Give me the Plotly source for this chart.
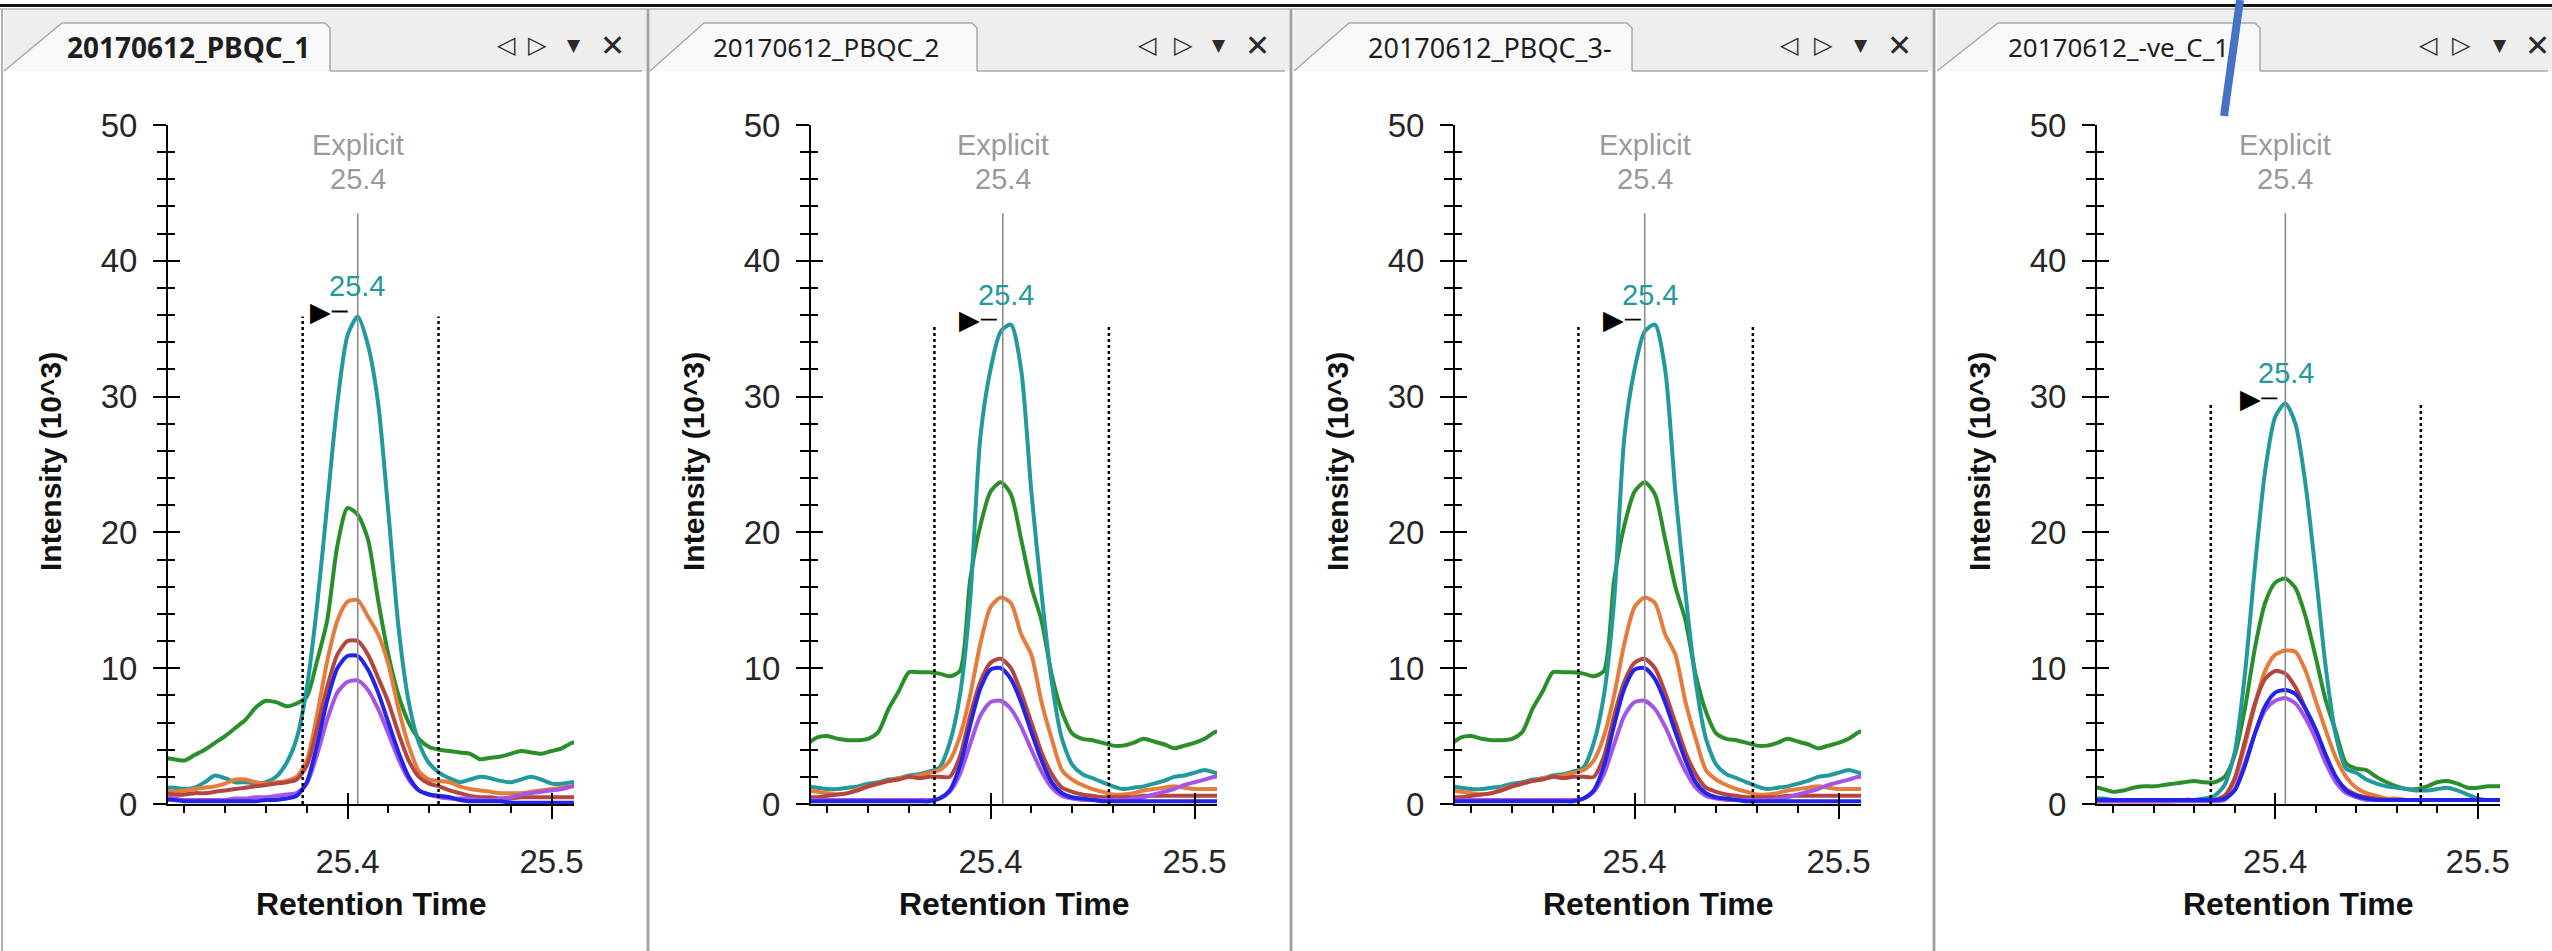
import plotly.graph_objects as go

W, H = 2552, 951

# ---------------- data ----------------
RT = [25.310, 25.315, 25.320, 25.325, 25.330, 25.335, 25.340, 25.345, 25.350, 25.355,
      25.360, 25.365, 25.370, 25.375, 25.380, 25.385, 25.390, 25.395, 25.400, 25.405,
      25.410, 25.415, 25.420, 25.425, 25.430, 25.435, 25.440, 25.445, 25.450, 25.455,
      25.460, 25.465, 25.470, 25.475, 25.480, 25.485, 25.490, 25.495, 25.500, 25.505,
      25.510, 25.515]

PANEL_NAMES = ["20170612_PBQC_1", "20170612_PBQC_2", "20170612_PBQC_3-", "20170612_-ve_C_1"]

teal_1 = [1.2, 1.2, 1.1, 1.2, 1.6, 2.1, 1.9, 1.6, 1.6, 1.5, 1.6, 2.0, 3.0, 4.8, 8.5, 14.5, 22.0, 29.5, 34.5, 35.9,
          33.8, 29.5, 21.5, 13.0, 7.5, 4.5, 3.0, 2.3, 1.9, 1.6, 1.8, 2.0, 1.9, 1.7, 1.6, 1.8, 2.0, 1.8, 1.5, 1.5, 1.6, 1.6]
green_1 = [3.4, 3.3, 3.2, 3.6, 4.0, 4.5, 5.0, 5.6, 6.2, 7.1, 7.6, 7.5, 7.2, 7.4, 7.9, 10.5, 13.5, 19.0, 21.8, 21.3,
           19.5, 15.0, 11.0, 8.0, 6.0, 4.8, 4.2, 4.0, 3.9, 3.8, 3.7, 3.3, 3.4, 3.5, 3.7, 3.9, 3.8, 3.7, 3.9, 4.1, 4.5, 4.6]
orange_1 = [1.0, 0.9, 1.0, 1.1, 1.2, 1.3, 1.5, 1.8, 1.8, 1.6, 1.5, 1.6, 1.7, 2.0, 3.2, 6.5, 10.5, 13.5, 14.9, 15.0,
            13.8, 12.5, 10.3, 7.0, 4.3, 2.4, 1.8, 1.7, 1.6, 1.3, 1.1, 1.0, 0.9, 0.8, 0.8, 0.8, 0.9, 1.0, 1.1, 1.2, 1.3, 1.3]
red_1 = [0.8, 0.7, 0.7, 0.8, 0.8, 0.9, 1.0, 1.1, 1.2, 1.3, 1.4, 1.5, 1.6, 1.8, 2.8, 5.5, 8.6, 11.0, 12.0, 12.0,
         11.0, 9.3, 7.5, 5.2, 3.2, 2.0, 1.5, 1.3, 1.0, 0.8, 0.6, 0.5, 0.5, 0.4, 0.4, 0.5, 0.5, 0.5, 0.5, 0.5, 0.5, 0.5]
blue_1 = [0.3, 0.3, 0.2, 0.2, 0.2, 0.2, 0.2, 0.2, 0.2, 0.2, 0.3, 0.3, 0.4, 0.6, 1.6, 4.3, 7.6, 10.0, 10.9, 10.9,
          9.9, 8.2, 6.0, 3.8, 2.0, 1.0, 0.7, 0.6, 0.5, 0.3, 0.2, 0.2, 0.2, 0.2, 0.1, 0.1, 0.1, 0.1, 0.1, 0.1, 0.1, 0.1]
purple_1 = [0.5, 0.4, 0.3, 0.3, 0.3, 0.3, 0.3, 0.4, 0.4, 0.5, 0.5, 0.6, 0.7, 0.8, 1.5, 3.6, 6.2, 8.2, 9.0, 9.1,
            8.4, 7.0, 5.2, 3.3, 1.8, 1.0, 0.7, 0.5, 0.4, 0.4, 0.4, 0.3, 0.3, 0.4, 0.5, 0.7, 0.8, 0.9, 1.0, 1.1, 1.3, 1.4]

teal_2 = [1.3, 1.2, 1.1, 1.1, 1.2, 1.3, 1.5, 1.6, 1.8, 1.9, 2.1, 2.2, 2.4, 2.7, 4.5, 8.0, 15.0, 27.0, 32.0, 34.8,
          35.3, 32.0, 23.0, 15.5, 9.0, 4.8, 2.9, 2.2, 1.9, 1.6, 1.3, 1.1, 1.2, 1.3, 1.5, 1.7, 2.0, 2.1, 2.3, 2.5, 2.3, 2.2]
green_2 = [4.4, 4.9, 5.0, 4.8, 4.7, 4.7, 4.8, 5.3, 7.0, 8.3, 9.7, 9.7, 9.7, 9.6, 9.4, 9.8, 16.5, 20.5, 23.0, 23.7,
           22.8, 19.5, 16.0, 13.5, 9.5, 6.8, 5.2, 4.8, 4.7, 4.5, 4.3, 4.3, 4.5, 4.8, 4.6, 4.4, 4.1, 4.3, 4.5, 4.8, 5.3, 5.4]
orange_2 = [1.0, 0.9, 0.8, 0.7, 0.8, 1.1, 1.3, 1.5, 1.7, 1.9, 2.0, 2.1, 2.3, 2.5, 3.2, 5.0, 8.0, 11.8, 14.5, 15.2,
            14.8, 12.5, 11.0, 7.5, 4.8, 2.5, 1.8, 1.4, 1.1, 0.9, 0.7, 0.7, 0.8, 1.0, 1.1, 1.2, 1.3, 1.2, 1.1, 1.1, 1.1, 1.1]
red_2 = [0.5, 0.5, 0.6, 0.7, 0.8, 1.0, 1.3, 1.5, 1.7, 1.8, 2.0, 1.9, 2.0, 2.0, 2.0, 3.5, 6.5, 9.0, 10.4, 10.7,
         10.0, 8.2, 6.0, 3.8, 2.2, 1.2, 0.9, 0.7, 0.6, 0.5, 0.5, 0.5, 0.5, 0.6, 0.6, 0.6, 0.6, 0.6, 0.6, 0.6, 0.6, 0.6]
blue_2 = [0.2, 0.2, 0.2, 0.2, 0.2, 0.2, 0.2, 0.2, 0.2, 0.2, 0.2, 0.2, 0.2, 0.4, 1.0, 2.8, 5.8, 8.5, 9.9, 10.0,
          9.2, 7.5, 5.3, 3.2, 1.6, 0.8, 0.5, 0.4, 0.3, 0.2, 0.2, 0.2, 0.2, 0.2, 0.2, 0.2, 0.2, 0.2, 0.2, 0.2, 0.2, 0.2]
purple_2 = [0.3, 0.3, 0.3, 0.3, 0.3, 0.3, 0.3, 0.3, 0.3, 0.3, 0.3, 0.3, 0.3, 0.4, 0.9, 2.2, 4.4, 6.5, 7.5, 7.6,
            7.0, 5.7, 4.0, 2.4, 1.2, 0.6, 0.4, 0.3, 0.3, 0.3, 0.3, 0.3, 0.4, 0.5, 0.7, 0.9, 1.1, 1.4, 1.6, 1.8, 2.0, 2.0]

teal_3 = [1.3, 1.2, 1.1, 1.1, 1.2, 1.3, 1.5, 1.6, 1.8, 1.9, 2.1, 2.2, 2.4, 2.7, 4.5, 8.0, 15.0, 27.0, 32.0, 34.8,
          35.3, 32.0, 23.0, 15.5, 9.0, 4.8, 2.9, 2.2, 1.9, 1.6, 1.3, 1.1, 1.2, 1.3, 1.5, 1.7, 2.0, 2.1, 2.3, 2.5, 2.3, 2.2]
green_3 = [4.4, 4.9, 5.0, 4.8, 4.7, 4.7, 4.8, 5.3, 7.0, 8.3, 9.7, 9.7, 9.7, 9.6, 9.4, 9.8, 16.5, 20.5, 23.0, 23.7,
           22.8, 19.5, 16.0, 13.5, 9.5, 6.8, 5.2, 4.8, 4.7, 4.5, 4.3, 4.3, 4.5, 4.8, 4.6, 4.4, 4.1, 4.3, 4.5, 4.8, 5.3, 5.4]
orange_3 = [1.0, 0.9, 0.8, 0.7, 0.8, 1.1, 1.3, 1.5, 1.7, 1.9, 2.0, 2.1, 2.3, 2.5, 3.2, 5.0, 8.0, 11.8, 14.5, 15.2,
            14.8, 12.5, 11.0, 7.5, 4.8, 2.5, 1.8, 1.4, 1.1, 0.9, 0.7, 0.7, 0.8, 1.0, 1.1, 1.2, 1.3, 1.2, 1.1, 1.1, 1.1, 1.1]
red_3 = [0.5, 0.5, 0.6, 0.7, 0.8, 1.0, 1.3, 1.5, 1.7, 1.8, 2.0, 1.9, 2.0, 2.0, 2.0, 3.5, 6.5, 9.0, 10.4, 10.7,
         10.0, 8.2, 6.0, 3.8, 2.2, 1.2, 0.9, 0.7, 0.6, 0.5, 0.5, 0.5, 0.5, 0.6, 0.6, 0.6, 0.6, 0.6, 0.6, 0.6, 0.6, 0.6]
blue_3 = [0.2, 0.2, 0.2, 0.2, 0.2, 0.2, 0.2, 0.2, 0.2, 0.2, 0.2, 0.2, 0.2, 0.4, 1.0, 2.8, 5.8, 8.5, 9.9, 10.0,
          9.2, 7.5, 5.3, 3.2, 1.6, 0.8, 0.5, 0.4, 0.3, 0.2, 0.2, 0.2, 0.2, 0.2, 0.2, 0.2, 0.2, 0.2, 0.2, 0.2, 0.2, 0.2]
purple_3 = [0.3, 0.3, 0.3, 0.3, 0.3, 0.3, 0.3, 0.3, 0.3, 0.3, 0.3, 0.3, 0.3, 0.4, 0.9, 2.2, 4.4, 6.5, 7.5, 7.6,
            7.0, 5.7, 4.0, 2.4, 1.2, 0.6, 0.4, 0.3, 0.3, 0.3, 0.3, 0.3, 0.4, 0.5, 0.7, 0.9, 1.1, 1.4, 1.6, 1.8, 2.0, 2.0]

teal_4 = [0.4, 0.4, 0.3, 0.3, 0.3, 0.3, 0.3, 0.3, 0.3, 0.3, 0.3, 0.4, 0.6, 1.4, 3.8, 9.5, 17.5, 24.5, 28.5, 29.5,
          28.0, 23.5, 17.0, 10.0, 5.0, 2.6, 2.3, 1.8, 1.5, 1.3, 1.2, 1.1, 1.0, 1.0, 1.1, 1.2, 1.0, 0.7, 0.4, 0.3, 0.3, 0.3]
green_4 = [1.3, 1.1, 0.9, 1.0, 1.2, 1.3, 1.3, 1.4, 1.5, 1.6, 1.7, 1.6, 1.6, 2.0, 3.6, 7.0, 11.5, 14.8, 16.3, 16.6,
           15.9, 13.8, 10.8, 7.6, 5.3, 3.0, 2.6, 2.5, 2.0, 1.6, 1.3, 1.1, 1.1, 1.3, 1.6, 1.7, 1.5, 1.2, 1.2, 1.3, 1.3, 1.3]
orange_4 = [0.2, 0.2, 0.2, 0.2, 0.2, 0.2, 0.2, 0.2, 0.2, 0.3, 0.3, 0.3, 0.3, 0.6, 1.8, 4.3, 7.3, 9.8, 11.0, 11.3,
            11.2, 9.8, 7.6, 5.4, 3.4, 2.0, 1.2, 0.8, 0.6, 0.4, 0.4, 0.3, 0.3, 0.3, 0.3, 0.3, 0.3, 0.3, 0.3, 0.3, 0.3, 0.3]
red_4 = [0.2, 0.2, 0.2, 0.2, 0.2, 0.2, 0.2, 0.2, 0.2, 0.3, 0.3, 0.3, 0.3, 0.6, 1.9, 4.6, 7.4, 9.2, 9.8, 9.6,
         8.6, 7.0, 5.0, 3.2, 1.9, 1.1, 0.7, 0.5, 0.4, 0.3, 0.3, 0.3, 0.3, 0.3, 0.3, 0.3, 0.3, 0.3, 0.3, 0.3, 0.3, 0.3]
blue_4 = [0.3, 0.3, 0.3, 0.3, 0.3, 0.3, 0.3, 0.3, 0.3, 0.3, 0.3, 0.3, 0.3, 0.4, 1.0, 2.8, 5.2, 7.2, 8.2, 8.4,
          8.1, 7.0, 5.5, 3.6, 2.0, 1.0, 0.6, 0.4, 0.3, 0.3, 0.3, 0.3, 0.3, 0.3, 0.3, 0.3, 0.3, 0.3, 0.3, 0.3, 0.3, 0.3]
purple_4 = [0.2, 0.2, 0.2, 0.2, 0.2, 0.2, 0.2, 0.2, 0.2, 0.2, 0.2, 0.2, 0.2, 0.3, 1.1, 3.0, 5.2, 6.9, 7.6, 7.8,
            7.4, 6.3, 4.8, 3.0, 1.6, 0.8, 0.5, 0.3, 0.3, 0.3, 0.3, 0.3, 0.3, 0.3, 0.3, 0.3, 0.3, 0.3, 0.3, 0.3, 0.3, 0.3]

EXPLICIT_RT = [25.405, 25.406, 25.405, 25.405]
APEX_RT = [25.4045, 25.4075, 25.4075, 25.4055]
BOUND_LEFT = [25.378, 25.3725, 25.3725, 25.3682]
BOUND_RIGHT = [25.4446, 25.458, 25.458, 25.4719]

Y_RANGE = [0, 50]
X_RANGE = [25.312, 25.511]

SERIES = {
    "green": [green_1, green_2, green_3, green_4],
    "teal": [teal_1, teal_2, teal_3, teal_4],
    "orange": [orange_1, orange_2, orange_3, orange_4],
    "red": [red_1, red_2, red_3, red_4],
    "purple": [purple_1, purple_2, purple_3, purple_4],
    "blue": [blue_1, blue_2, blue_3, blue_4],
}
COLORS = {
    "teal": "#22999c",
    "green": "#2a8f2a",
    "orange": "#e67c3b",
    "red": "#b3473f",
    "blue": "#2424e8",
    "purple": "#a455e6",
}

# ---------------- geometry (pixels) ----------------
AXIS_LEFT = [168, 811, 1455, 2097]
AXIS_RIGHT = [574, 1217, 1861, 2500]
Y_TOP, Y_BOTTOM = 125, 804
PANEL_LEFT = [4, 650, 1294, 1937]
PANEL_RIGHT = [646, 1289, 1932, 2552]
TAB_SLANT = [62, 704, 1349, 1998]
TAB_RIGHT = [330, 977, 1632, 2260]
TAB_TEXT_X = [188, 826, 1490, 2118]
TAB_TEXT_SIZE = [28, 26, 27, 26]
ICON_X = [[506, 537, 574, 612], [1147, 1183, 1219, 1257], [1789, 1823, 1861, 1899], [2428, 2461, 2500, 2537]]
SEPARATORS = [648, 1291, 1934]

FONT = "Liberation Sans, Arial, sans-serif"


def px(x):
    return x / W


def py(y):
    return 1 - y / H


def paper_text(x, y, text, font, **kw):
    d = dict(x=px(x), y=py(y), xref="paper", yref="paper", text=text, showarrow=False,
             xanchor="center", yanchor="middle", font=font)
    d.update(kw)
    return d


fig = go.Figure()
shapes = []
annotations = []
layout_axes = {}

for i in range(4):
    n = i + 1
    xid = "x" if n == 1 else f"x{n}"
    yid = "y" if n == 1 else f"y{n}"
    xo, yo = f"x{n + 4}", f"y{n + 4}"

    # chromatogram traces
    for key in ["green", "teal", "orange", "red", "purple", "blue"]:
        fig.add_trace(go.Scatter(
            x=RT, y=SERIES[key][i], mode="lines", xaxis=xid, yaxis=yid,
            line=dict(color=COLORS[key], width=4, shape="spline", smoothing=0.7),
            showlegend=False, hoverinfo="skip"))

    teal = SERIES["teal"][i]
    apex_h = max(teal)

    # integration boundaries
    for b in (BOUND_LEFT[i], BOUND_RIGHT[i]):
        fig.add_trace(go.Scatter(
            x=[b, b], y=[0, apex_h], mode="lines", xaxis=xid, yaxis=yid,
            line=dict(color="black", width=2.5, dash="dot"), showlegend=False, hoverinfo="skip"))
    # explicit RT line
    fig.add_trace(go.Scatter(
        x=[EXPLICIT_RT[i], EXPLICIT_RT[i]], y=[0, 43.5], mode="lines", xaxis=xid, yaxis=yid,
        line=dict(color="#8c8c8c", width=1.6), showlegend=False, hoverinfo="skip"))

    # dummy traces for overlay (crossing ticks) axes
    fig.add_trace(go.Scatter(x=[None], y=[None], xaxis=xid, yaxis=yo, showlegend=False, hoverinfo="skip"))
    fig.add_trace(go.Scatter(x=[None], y=[None], xaxis=xo, yaxis=yid, showlegend=False, hoverinfo="skip"))

    dom_x = [px(AXIS_LEFT[i]), px(AXIS_RIGHT[i])]
    dom_y = [py(Y_BOTTOM), py(Y_TOP)]
    tickfont = dict(family=FONT, size=33, color="#262626")

    layout_axes["xaxis" if n == 1 else f"xaxis{n}"] = dict(
        domain=dom_x, range=X_RANGE, anchor=yid, tickmode="linear", tick0=25.4, dtick=0.1,
        ticks="outside", ticklen=13, tickwidth=2, tickcolor="black",
        showline=True, linecolor="black", linewidth=2, showgrid=False, zeroline=False,
        tickfont=tickfont, ticklabelstandoff=14, automargin=False,
        minor=dict(tickmode="linear", tick0=25.4, dtick=0.02, ticks="outside", ticklen=7,
                   tickwidth=2, tickcolor="black", showgrid=False),
        fixedrange=True)
    layout_axes["yaxis" if n == 1 else f"yaxis{n}"] = dict(
        domain=dom_y, range=Y_RANGE, anchor=xid, tickmode="linear", tick0=0, dtick=10,
        ticks="outside", ticklen=13, tickwidth=2, tickcolor="black",
        showline=True, linecolor="black", linewidth=2, showgrid=False, zeroline=False,
        tickfont=tickfont, ticklabelstandoff=9, automargin=False,
        minor=dict(tickmode="linear", tick0=0, dtick=2, ticks="outside", ticklen=9,
                   tickwidth=2, tickcolor="black", showgrid=False),
        fixedrange=True)
    layout_axes[f"xaxis{n + 4}"] = dict(
        overlaying=xid, anchor=yid, range=X_RANGE, side="bottom", tickmode="linear", tick0=25.4, dtick=0.1,
        ticks="inside", ticklen=11, tickwidth=2, tickcolor="black", showticklabels=False, automargin=False,
        showline=False, showgrid=False, zeroline=False, fixedrange=True)
    layout_axes[f"yaxis{n + 4}"] = dict(
        overlaying=yid, anchor=xid, range=Y_RANGE, side="left", tickmode="linear", tick0=0, dtick=10,
        ticks="inside", ticklen=12, tickwidth=2, tickcolor="black", showticklabels=False, automargin=False,
        minor=dict(tickmode="linear", tick0=0, dtick=2, ticks="inside", ticklen=7, tickwidth=2,
                   tickcolor="black", showgrid=False),
        showline=False, showgrid=False, zeroline=False, fixedrange=True)

    # explicit labels
    annotations.append(dict(x=EXPLICIT_RT[i], y=48.5, xref=xid, yref=yid, text="Explicit", showarrow=False,
                            xanchor="center", yanchor="middle",
                            font=dict(family=FONT, size=29, color="#9a9a9a")))
    annotations.append(dict(x=EXPLICIT_RT[i], y=46.0, xref=xid, yref=yid, text=f"{EXPLICIT_RT[i]:.1f}",
                            showarrow=False, xanchor="center", yanchor="middle",
                            font=dict(family=FONT, size=29, color="#9a9a9a")))
    # apex label
    annotations.append(dict(x=APEX_RT[i], y=apex_h, xref=xid, yref=yid, text=f"{APEX_RT[i]:.1f}",
                            showarrow=False, yshift=30, xanchor="center", yanchor="middle",
                            font=dict(family=FONT, size=29, color=COLORS["teal"])))
    # apex pointer
    annotations.append(dict(x=APEX_RT[i], y=apex_h, xref=xid, yref=yid, text="▶", showarrow=True,
                            arrowhead=0, arrowwidth=1.8, arrowcolor="black", ax=-27, ay=0,
                            xshift=-9, yshift=5, standoff=0, borderpad=0,
                            font=dict(family="DejaVu Sans", size=27, color="black")))
    # axis titles
    annotations.append(paper_text((AXIS_LEFT[i] + AXIS_RIGHT[i]) / 2, 904, "<b>Retention Time</b>",
                                  dict(family=FONT, size=32, color="#111")))
    annotations.append(paper_text(AXIS_LEFT[i] - 118, 462, "<b>Intensity (10^3)</b>",
                                  dict(family=FONT, size=30, color="#111"), textangle=-90))

    # tab strip
    shapes.append(dict(type="rect", xref="paper", yref="paper", x0=px(PANEL_LEFT[i]), x1=px(PANEL_RIGHT[i]),
                       y0=py(71), y1=py(9), fillcolor="#eeeeee", line=dict(width=0), layer="above"))
    bl, st, tr = PANEL_LEFT[i], TAB_SLANT[i], TAB_RIGHT[i]
    pts = [(bl, 71), (st, 23), (tr - 5, 23), (tr, 28), (tr, 71)]
    d = "M " + " L ".join(f"{px(a):.6f},{py(b):.6f}" for a, b in pts)
    shapes.append(dict(type="path", xref="paper", yref="paper", path=d + " Z", fillcolor="#f9f9f9",
                       line=dict(width=0), layer="above"))
    shapes.append(dict(type="path", xref="paper", yref="paper", path=d, fillcolor="rgba(0,0,0,0)",
                       line=dict(color="#a9a9a9", width=1.5), layer="above"))
    shapes.append(dict(type="line", xref="paper", yref="paper", x0=px(tr), x1=px(PANEL_RIGHT[i] - 4),
                       y0=py(71), y1=py(71), line=dict(color="#a9a9a9", width=1.5), layer="above"))
    name = PANEL_NAMES[i]
    annotations.append(paper_text(TAB_TEXT_X[i], 47, f"<b>{name}</b>" if n == 1 else name,
                                  dict(family="Noto Sans", size=TAB_TEXT_SIZE[i], color="#1e1e1e")))
    icons = [("◁", 24), ("▷", 24), ("▼", 17), ("✕", 30)]
    for (sym, sz), ix in zip(icons, ICON_X[i]):
        annotations.append(paper_text(ix, 45, sym, dict(family="DejaVu Sans", size=sz, color="#2a2a2a")))

# window frame
shapes.append(dict(type="rect", xref="paper", yref="paper", x0=0, x1=1, y0=py(7), y1=py(4),
                   fillcolor="#151515", line=dict(width=0), layer="above"))
shapes.append(dict(type="line", xref="paper", yref="paper", x0=0, x1=1, y0=py(9), y1=py(9),
                   line=dict(color="#b5b5b5", width=1.5), layer="above"))
for sx in SEPARATORS:
    shapes.append(dict(type="line", xref="paper", yref="paper", x0=px(sx), x1=px(sx), y0=0, y1=py(9),
                       line=dict(color="#a3a3a3", width=3), layer="above"))
shapes.append(dict(type="line", xref="paper", yref="paper", x0=px(2), x1=px(2), y0=0, y1=py(9),
                   line=dict(color="#b0b0b0", width=2), layer="above"))
# hand-drawn blue pen stroke
shapes.append(dict(type="line", xref="paper", yref="paper", x0=px(2240), y0=py(0), x1=px(2224), y1=py(116),
                   line=dict(color="#4472c4", width=8), layer="above"))

fig.update_layout(
    width=W, height=H, margin=dict(l=0, r=0, t=0, b=0, pad=0, autoexpand=False),
    paper_bgcolor="white", plot_bgcolor="white", showlegend=False,
    shapes=shapes, annotations=annotations, **layout_axes)

fig.write_html("out.html")
